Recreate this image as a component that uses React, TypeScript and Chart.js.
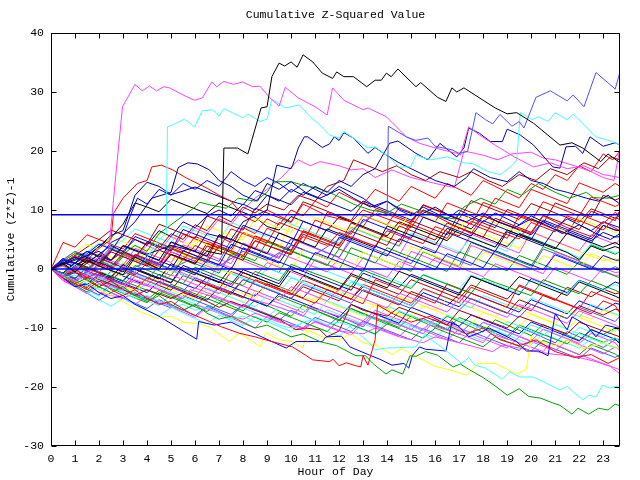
import React, { useEffect, useRef } from "react";
import { Chart, registerables } from "chart.js";

Chart.register(...registerables);

// ---------------- axes ----------------
const HOURS_MAX = 23.7;
const X_TICKS = [0,1,2,3,4,5,6,7,8,9,10,11,12,13,14,15,16,17,18,19,20,21,22,23];
const Y_TICKS = [-30,-20,-10,0,10,20,30,40];
const REF_LEVELS = [0, 9.21];
// sample times (hours) used by the half-hourly series
const HALF_HOURS = [0,.5,1,1.5,2,2.5,3,3.5,4,4.5,5,5.5,6,6.5,7,7.5,8,8.5,9,9.5,10,10.5,11,11.5,12,12.5,13,13.5,14,14.5,15,15.5,16,16.5,17,17.5,18,18.5,19,19.5,20,20.5,21,21.5,22,22.5,23,23.5,23.7];

// ---------------- prominent series: flat (hour, value) pairs ----------------
const magentaA = [0,0, .5,-1.2, 1,.5, 1.5,-.5, 2,1.5, 2.4,3, 2.72,16.8, 2.98,27.5, 3.5,31.3, 3.8,30.2, 4.1,31, 4.4,30.2, 4.7,30.9, 4.94,30.7, 5.5,29.5, 5.98,28.6, 6.3,29, 6.7,31.7, 6.9,30.9, 7.2,31.8, 7.6,31.3, 7.98,31.7, 8.4,30.9, 8.7,31, 9.1,29.1, 9.5,27.6, 9.76,30.8, 10.3,29, 11,27.5, 11.5,26.1, 11.73,30.7, 12.2,28.6, 13,27, 13.2,27.3, 13.97,25.8, 14.8,22.4, 15.35,21.3, 16.2,20.3, 16.9,19.6, 17.05,19.3, 17.4,24.1, 17.85,22.7, 18.5,21, 19.3,19, 20.1,17.3, 20.8,18, 21.5,17, 22.2,17.5, 23,16, 23.7,15.5];
const blackA = [0,0, .5,1, 1,-.5, 1.5,1.5, 2,.5, 3,-1, 3.5,2, 4.5,0, 5,2.5, 6,1, 6.5,3, 7.1,2.5, 7.2,20.5, 7.77,20.5, 8.2,19.5, 8.75,27.3, 9,27.5, 9.2,32.6, 9.5,34.9, 9.73,34.4, 10,35.1, 10.25,34.2, 10.5,36.3, 10.9,35.1, 11.3,33.2, 11.73,32.3, 11.9,33.4, 12.2,32.6, 12.6,32.6, 13.15,30.9, 13.5,32, 13.76,32, 13.97,33.2, 14.17,32.6, 14.45,33.9, 15.2,30.9, 15.4,31.6, 16.1,29.1, 16.45,28.4, 16.7,30.7, 16.9,30, 17.2,30.7, 18,28.6, 18.5,27.3, 19,26.3, 19.4,26.5, 20.1,24.7, 21.2,21, 21.7,21.4, 22.15,20.5, 22.9,18.2, 23.2,19.5, 23.7,18];
const cyanA = [0,0, .5,-1, 1,.8, 1.5,-.8, 2,-2, 2.5,-.5, 3,1, 3.5,-.5, 4,2, 4.5,5, 4.8,6, 4.85,24.1, 5.1,24.5, 5.56,25.4, 5.98,24.1, 6.3,26.8, 6.73,27, 7,25.9, 7.2,27.2, 8,25.6, 8.2,26.3, 8.7,25, 9,25.4, 9.2,28.8, 9.76,27.3, 10.35,27.8, 10.8,25.8, 11.2,24.4, 11.6,22.7, 12,22.2, 12.2,23.3, 13.2,20.5, 13.5,20.7, 13.97,19.3, 14.2,18.5, 14.5,17.3, 14.98,17.3, 15.2,19.3, 15.8,18.5, 16.5,19, 17.2,18, 17.6,17.8, 18.2,16.5, 18.7,16, 19.2,17.5, 19.4,18.5, 19.55,26.5, 20.05,25.3, 20.3,25.8, 20.7,25, 21,26.5, 21.5,25.3, 21.75,26.3, 22.7,22.4, 23.4,21.6, 23.7,21];
const slateA = [0,0, 1,-1.5, 2,.5, 3,-1, 4,1.5, 5,0, 6,2, 7,.5, 8,3, 9,1.5, 10,4, 11,2.5, 12,5, 13,8, 13.6,9.5, 14,9, 14.05,24.2, 14.8,22.4, 15.2,21.8, 15.7,22.2, 16,20.8, 16.7,20.2, 17,19.6, 17.35,19.9, 17.55,23.6, 17.7,26.5, 18.1,25.3, 18.4,24.6, 18.7,26.2, 19.2,24.2, 19.5,25, 19.7,23.9, 20.2,29.1, 20.8,30.2, 21.5,28.5, 21.75,29.5, 22.2,27.5, 22.7,33.3, 23.5,30.5, 23.7,33.4];
const navyA = [0,0, 1,1.5, 2,3, 2.5,1.5, 3,4, 4,2.5, 5,4, 6,3, 6.5,6, 7.5,5, 8,8, 8.5,9, 9,10, 9.4,17.6, 10,17, 10.06,17.5, 10.3,20.5, 10.55,22.4, 10.7,22.4, 11.3,20.6, 11.6,21.2, 11.8,22.4, 12,21.8, 12.2,23.1, 12.6,22.2, 13.2,19.6, 13.5,20.6, 13.97,19.3, 14.5,18, 15,17, 15.5,16, 16,15, 16.8,14, 17.3,15.5, 17.6,17, 18.3,15.5, 19,14.8, 19.5,16.5, 20,15, 20.5,14.5, 21,13.5, 21.5,13, 22.3,12, 22.8,11.5, 23.2,12.5, 23.7,11];
const navyB = [0,0, .5,-1, 1,.5, 1.5,2, 2,1, 2.5,3, 3,6, 3.5,8, 4.2,12, 5,13, 5.3,17.2, 5.7,18, 6.1,17.8, 6.6,16.8, 7,15, 7.5,14, 8,12.5, 8.6,11.5, 9,14.5, 9.5,13.5, 10,14.8, 10.6,13, 11.2,12, 12,13.5, 12.6,12, 13.3,10.5, 14,11.5, 14.6,10, 15.3,9, 16,10.5, 16.6,9, 17.3,8, 18,9.5, 18.6,8, 19.3,7, 20,8.5, 20.6,7.5, 21.3,6, 22,7.5, 22.7,6, 23.3,5, 23.7,6];
const navyC = [0,0, .5,1, 1,2, 1.5,1, 2,2.5, 2.5,4, 3,3, 3.5,5, 4,4, 4.5,6.5, 5,5.5, 5.5,8, 6,7, 6.5,9, 7,10, 7.5,9, 8,11, 8.5,10, 9,12.5, 9.5,11.5, 10,13.5, 10.5,12.5, 11,14, 11.5,13, 12,15, 12.5,14, 13,16, 13.5,17, 14.1,21.3, 14.45,21.7, 15.2,19.6, 15.7,18.5, 16.2,21.3, 16.9,19, 17.2,20.5, 17.4,23.9, 17.85,23, 18.3,21.6, 18.8,21.6, 19,23.7, 19.55,22.7, 20.1,21, 20.9,17.3, 21.2,17.1, 21.45,20.7, 21.85,20.8, 22.15,19.6, 22.45,22.4, 23,20.8, 23.5,21.4, 23.7,21];
const redA = [0,0, .5,1, 1,2, 1.5,1.5, 2,3.5, 2.5,5, 2.6,9.4, 3,12, 3.6,14.5, 4,15, 4.2,17.3, 4.6,17.6, 5.07,16.8, 5.65,15.4, 6.5,13.7, 7,12.5, 7.5,11.5, 8,9, 8.5,8, 9,10, 10,8, 10.5,11, 11.5,9, 12.5,8, 13,10, 14,8.5, 15,7, 15.5,10, 16.5,8, 17.5,6, 18,9, 19,7.5, 20,6, 20.5,9, 21.5,7, 22.5,5.5, 23,8, 23.7,6.5];
const darkredA = [0,0, .5,.8, 1,-.5, 1.5,1, 2,2.5, 2.5,1.5, 3,3, 3.5,2, 4,4.5, 4.5,3.5, 5,6, 5.5,5, 6,7.5, 6.5,6.5, 7,9, 7.5,8, 8,10.5, 8.5,9.5, 9,11, 9.7,10, 10.3,12.5, 11,11.5, 11.5,14, 12.2,15, 12.6,18.5, 13.2,17.5, 13.8,16.5, 14.4,17.5, 15,16, 15.6,15, 16.2,16.5, 17,15.5, 17.5,16.5, 18.2,15, 18.8,14, 19.5,16, 20.2,15, 20.8,17, 21.5,16, 22.2,18, 22.8,17, 23.3,19, 23.7,18.5];
const greenA = [0,0, .5,-.8, 1,.8, 1.5,0, 2,1.5, 2.5,.5, 3,2.5, 3.5,4, 4,3, 4.5,6, 5,7.5, 5.5,9, 6,10.5, 6.2,11.3, 6.7,10.8, 7.3,10.3, 7.8,12, 8.5,11.5, 9,13, 9.3,14.8, 10,14.8, 10.5,14.2, 11,13.8, 11.6,13, 12,12.2, 12.6,11, 13.3,10, 14,9.5, 14.6,11, 15.3,10, 16,9, 16.8,8.5, 17.2,10.5, 17.9,12, 18.5,11, 19,13.5, 19.6,12.5, 20.3,14.5, 21,13, 21.6,12, 22.3,13, 22.6,12.1, 23.2,12, 23.7,12.5];
const magentaB = [0,0, .5,.5, 1,-.8, 1.5,1, 2,-.5, 2.5,1.5, 3,3, 3.5,2, 4,4, 4.5,3, 5,5.5, 5.5,4.5, 6,7, 6.5,6, 7,8.5, 7.5,7.5, 8,10, 8.5,12, 9,13.5, 9.6,15.5, 10.3,18.5, 10.8,17.5, 11.2,18.2, 12,17.5, 12.5,16.8, 13,17, 13.5,15.5, 14.2,16.8, 15,15.5, 16,14.5, 16.8,13.8, 17.2,20, 18,19.3, 18.6,18.5, 19.2,19.5, 20,19.8, 20.5,18.8, 21,18.5, 21.8,17.5, 22.5,16.5, 23,15.5, 23.45,15, 23.7,20.5];
const redB = [0,0, .5,-1, 1,0, 1.5,-1.5, 2,-.5, 2.5,-2, 3,0, 3.5,-1, 4,1, 4.5,0, 5,2.5, 5.5,1.5, 6,4, 6.5,3, 7,5.5, 7.5,4.5, 8,7, 8.5,6, 9,8.5, 9.5,7.5, 10,10, 10.5,9, 11,11.5, 11.5,10.5, 12,13, 12.5,12, 13,11, 13.5,13.5, 14,12.5, 14.5,11.5, 15,14, 15.5,13, 16,12, 16.5,14.5, 17,13.5, 17.5,12.5, 18,15, 18.5,14, 19,13, 19.5,12, 20,14.5, 20.5,13.5, 21,16, 21.5,15, 22,17.5, 22.5,16.5, 23,19.5, 23.4,18.5, 23.7,20];
const blueA = [0,0, .5,1.5, 1,1, 1.5,3, 2,2, 2.5,4.5, 3,5.5, 3.3,9, 3.6,12, 4,11, 4.5,13.5, 5,12.5, 5.5,14.5, 6,13.5, 6.5,15, 7,14, 7.5,16.5, 8,15, 8.5,14, 9,15.5, 9.5,14.5, 10,13, 10.5,14.5, 11,13.5, 11.5,12.5, 12,14, 12.5,13, 13,12, 13.5,10.5, 14,11.5, 14.5,10, 15,9, 15.5,10.5, 16,9.5, 16.5,8.5, 17,10, 17.5,9, 18,8, 18.5,9.5, 19,8.5, 19.5,7.5, 20,9, 20.5,8, 21,7, 21.5,8.5, 22,7.5, 22.5,6.5, 23,8, 23.7,7];
const redLow = [0,0, .5,-1.5, 1,-2.5, 1.5,-3.5, 2,-2, 2.5,-3.5, 3,-4.5, 3.5,-3.5, 4,-5, 4.5,-6, 5,-5.5, 5.8,-7.5, 6.6,-8.9, 7.1,-9.8, 7.85,-10.9, 8.5,-11.5, 9.2,-12.3, 10.06,-13.2, 10.6,-14.6, 10.9,-15.4, 11.6,-15.7, 11.75,-15.3, 12,-16.4, 12.3,-15.9, 12.7,-16.4, 12.9,-16.6, 13,-14.7, 13.2,-16.3, 13.5,-12, 13.6,-6.1, 14.2,-7.5, 15,-9, 15.8,-8, 16.5,-9.5, 17.3,-11, 18,-10, 18.7,-12, 19.5,-13, 20.2,-12, 21,-14, 21.8,-15, 22.5,-14.5, 23.2,-16, 23.7,-15];
const greenLow = [0,0, .5,-1, 1,-2.5, 1.5,-1.5, 2,-3, 2.5,-4, 3,-3, 3.5,-4.5, 4,-5.5, 4.5,-4.5, 5,-6, 5.5,-7, 6,-6, 6.5,-7.5, 7,-8.5, 7.5,-8, 8,-9, 8.5,-10, 9,-9.5, 9.5,-10.5, 10,-11.5, 10.5,-11, 11.2,-12.3, 11.9,-13, 12.7,-14.7, 13.1,-14.7, 13.4,-16, 13.8,-17.3, 13.95,-17.8, 14.2,-17.1, 14.65,-17.8, 14.95,-14.7, 15.2,-14.8, 15.6,-14, 16.1,-14.6, 16.75,-16.6, 17.05,-16.1, 17.4,-17, 18,-18.4, 18.5,-19.8, 19,-21.4, 19.5,-20.3, 19.9,-21.6, 20.4,-21.9, 20.9,-22.7, 21.2,-23.1, 21.7,-24.6, 21.95,-23.6, 22.4,-24.6, 22.8,-23.6, 23.2,-23.9, 23.5,-22.9, 23.7,-23.2];
const cyanLow = [0,0, .5,-1.5, 1,-1, 1.5,-2.5, 2,-3.5, 2.5,-3, 3,-4, 3.5,-5, 4,-4.5, 4.5,-5.5, 5,-6.5, 5.5,-6, 6,-7, 6.5,-6.5, 7,-7.5, 7.5,-8.5, 8,-8, 8.5,-9, 9,-8.5, 9.5,-9.5, 10,-10, 10.5,-9, 11,-8.5, 11.5,-9.5, 12,-9, 12.4,-9.5, 13.27,-12.5, 13.5,-13.7, 13.97,-13.4, 15.2,-13.2, 15.55,-11.2, 15.75,-11.7, 16.5,-14, 17.1,-16, 17.4,-15, 17.65,-16.3, 18.1,-16.8, 18.8,-18.7, 19.1,-17.4, 19.5,-18.3, 20.05,-18.3, 20.3,-18.7, 21.2,-20.5, 21.5,-19.9, 22.15,-22.2, 22.4,-21.4, 22.7,-21.7, 22.97,-19.7, 23.3,-20.2, 23.5,-19.9, 23.7,-19.8];
const blueLow = [0,0, .5,-1.5, 1,-3, 1.5,-2.5, 2,-4, 2.5,-5, 3,-4.5, 3.5,-6, 4,-7, 4.5,-8, 5.1,-9.5, 5.5,-10.5, 6.07,-11.9, 6.15,-8.9, 6.8,-9.5, 7.5,-9, 8.3,-10.6, 9.2,-12.3, 9.8,-13.4, 10.2,-12.3, 11.3,-12.3, 11.45,-11.5, 12.1,-11.4, 12.45,-13.2, 13.27,-14.6, 13.7,-15.3, 14.2,-16.3, 14.7,-16, 14.9,-16.8, 15.05,-14.7, 15.35,-13.2, 15.6,-13.6, 16.45,-13.9, 16.7,-8.9, 17,-9.8, 17.4,-11.5, 17.85,-10.8, 18.25,-10, 19,-11.5, 19.4,-12.3, 19.8,-13.9, 20.3,-13.9, 20.7,-14.7, 21,-7.6, 21.5,-10.3, 21.7,-8.1, 22.3,-9.5, 22.7,-11.5, 23.1,-9.5, 23.7,-10.1];
const yellowLow = [0,0, .5,-1, 1,-2.5, 1.5,-2, 2,-3.5, 2.5,-4.5, 3,-5.5, 3.67,-7.2, 4.4,-8.3, 5,-8, 5.5,-9, 6.2,-9.3, 6.6,-9.8, 7.43,-12.3, 7.85,-10.9, 8.3,-12, 8.7,-13.2, 8.95,-10.8, 9.5,-12, 10.05,-12.3, 10.5,-13.4, 10.65,-10.3, 11.3,-11.5, 12,-12, 12.5,-11, 13,-12.5, 13.6,-13, 14.2,-14.5, 14.6,-13.5, 15.3,-15, 16,-16.5, 16.7,-17.2, 17.3,-18, 17.8,-16, 18.5,-16, 19,-17, 19.4,-17.8, 19.8,-17, 20,-11.5, 20.5,-12.5, 21,-13, 21.5,-12, 22.2,-13.5, 23,-12.5, 23.7,-13.5];
const magentaLow = [0,0, .5,-2, 1,-3, 1.5,-2.5, 2,-4, 3,-5, 3.5,-4, 4.5,-5.5, 5.5,-7, 6,-6, 7,-7.5, 8,-8.5, 8.5,-7.5, 9.5,-9, 10.5,-10, 11,-9, 12,-10.5, 13,-11, 13.5,-10, 14.5,-11.5, 15.5,-12.5, 16,-11.5, 17,-12.5, 18.4,-14, 18.8,-12.9, 19.5,-13.4, 20.2,-14, 21,-14.5, 21.7,-14.7, 22.7,-15.7, 23.3,-16.5, 23.7,-17.8];
const magentaLow2 = [0,0, .5,-1, 1,-2, 1.5,-1, 2,-2.5, 3,-3.5, 3.3,-2, 4.5,-3.5, 5.5,-5, 5.8,-3.5, 7,-5, 8,-6.5, 8.3,-5, 9.5,-6.5, 10.5,-8, 10.8,-6.5, 12,-8, 13,-9.5, 13.3,-8, 14.5,-9.5, 15.5,-11, 15.8,-9.5, 17,-11, 18,-12.5, 18.3,-11, 19.5,-12.5, 20.5,-14, 20.8,-12.5, 22,-14.5, 23,-16, 23.7,-17.1];
const darkredLow = [0,0, .5,-1, 1,-.5, 1.5,-2, 2,-3, 2.5,-2, 3,-3.5, 3.5,-4.5, 4,-3.5, 5,-5, 5.5,-4, 6.5,-5.5, 7,-6.5, 7.5,-5.5, 8.5,-7, 9.5,-8.5, 10.2,-10.3, 10.6,-10, 11.2,-10.3, 11.5,-11.5, 12,-10.5, 12.5,-6, 13,-7, 14,-8, 14.5,-6.5, 15.5,-8, 16.5,-9.5, 17,-7, 18,-8.5, 19,-10, 19.5,-8, 20.5,-9.5, 21.5,-11, 22,-9, 23,-10.5, 23.7,-11.5];

// ---------------- bundle series: values at HALF_HOURS ----------------
const c01 = [0,-.8,.5,-.3,1.8,1,.2,2.5,1.7,1, 3.4,2.6,1.8,1.2,3.9,3.1,2.3,4.8,4,3.3, 2.6,5.5,4.7,4,6.2,5.4,4.6,3.9,6.5,5.7, 5,4.3,7.2,6.4,5.6,8.1,7.3,6.5,5.8,5.1, 7.9,7.1,6.3,9,8.2,7.4,6.6,8.8, 8.3];
const c02 = [0,-.9,-1.7,.4,-.4,-1.2,-2,.6,-.2,-1, -1.8,-2.5,.3,-.5,-1.3,-2.1,-2.8,-.4,-1.2,-2, .8,0,-.8,-1.5,-2.3,-3,-.2,-1,-1.8,-2.6, -3.3,-1,-1.8,-2.6,-3.4,-4.1,-1.5,-2.3,-3,-3.8, -4.5,-1.8,-2.6,-3.4,-4.2,-2,-2.8,-3.6, -4];
const c03 = [0,1.2,.4,-.4,1.9,1.1,.3,-.5,2.2,1.4, .6,-.2,-1,1.5,.7,-.1,3.6,2.8,2,1.2, .4,-.4,2.8,2,1.2,.4,-.4,3.9,3.1,2.3, 1.5,.7,-.1,2.6,1.8,1,.2,3.1,2.3,1.5, .7,-.1,2.4,1.6,.8,0,2.3,1.5, 1.5];
const c04 = [0,-1.3,-2.1,-.6,-1.4,-2.2,-3,-1.2,-2,-2.8, -1,-1.8,-2.6,-3.4,-4.2,-2.1,-2.9,-3.7,-4.5,-5.3, -3,-3.8,-4.6,-5.4,-3.4,-4.2,-5,-5.8,-6.6,-4.1, -4.9,-5.7,-6.5,-7.3,-5,-5.8,-6.6,-7.4,-8.2,-6, -6.8,-7.6,-8.4,-9.2,-7.1,-7.9,-8.7,-9.5, -10];
const c05 = [0,-1,-1.9,-2.8,-1.5,-2.4,-3.3,-4.1,-2.3,-3.1, -3.9,-4.7,-5.5,-3.2,-4,-4.8,-5.6,-6.4,-4.5,-5.3, -6.1,-6.9,-7.7,-5.4,-6.2,-7,-7.8,-8.6,-6.3,-7.1, -7.9,-8.7,-9.5,-7.8,-8.6,-9.4,-10.2,-11,-8.9,-9.7, -10.5,-11.3,-9.4,-10.2,-11,-11.8,-12.5,-11.6, -12.3];
const c06 = [0,.9,2.1,1.3,.5,2.9,2.1,1.3,.5,3.2, 2.4,1.6,.8,3.9,3.1,2.3,1.5,4.8,4,3.2, 2.4,5.9,5.1,4.3,3.5,6.4,5.6,4.8,4,7.3, 6.5,5.7,4.9,7.8,7,6.2,5.4,8.6,7.8,7, 6.2,9.1,8.3,7.5,6.7,9.8,9,8.2, 10];
const c07 = [0,.8,-.2,1.2,.4,-.4,-1.2,1.8,1,.2, -.6,2.4,1.6,.8,0,-.8,2.9,2.1,1.3,.5, -.3,3.3,2.5,1.7,.9,.1,2.8,2,1.2,.4, 3.8,3,2.2,1.4,.6,-.2,2.9,2.1,1.3,.5, -.3,2.3,1.5,.7,-.1,2.6,1.8,1, 2];
const c08 = [0,-.7,1.1,.3,-.5,-1.3,.7,-.1,-.9,-1.7, .9,.1,-.7,-1.5,-2.3,.2,-.6,-1.4,-2.2,-3, -.2,-1,-1.8,-2.6,-3.4,-.8,-1.6,-2.4,-3.2,-.4, -1.2,-2,-2.8,-3.6,-4.4,-1.2,-2,-2.8,-3.6,-1.3, -2.1,-2.9,-3.7,-4.5,-2.2,-3,-3.8,-4.6, -5];
const c09 = [0,1.1,.3,1.9,1.1,.3,-.5,2.4,1.6,.8, 0,3.1,2.3,1.5,.7,4.2,3.4,2.6,1.8,1, 4.1,3.3,2.5,1.7,5.4,4.6,3.8,3,2.2,5.1, 4.3,3.5,2.7,6.2,5.4,4.6,3.8,3,6.3,5.5, 4.7,3.9,6.8,6,5.2,4.4,7.4,6.6, 6.5];
const c10 = [0,-1.1,-1.9,-.3,-1.1,-1.9,-2.7,-.6,-1.4,-2.2, -3,-3.8,-1.5,-2.3,-3.1,-3.9,-1.8,-2.6,-3.4,-4.2, -5,-2.6,-3.4,-4.2,-5,-5.8,-3.5,-4.3,-5.1,-5.9, -6.7,-4.6,-5.4,-6.2,-7,-5,-5.8,-6.6,-7.4,-8.2, -6,-6.8,-7.6,-8.4,-6.5,-7.3,-8.1,-8.9, -8];
const c11 = [0,-1.2,-2.2,-3.2,-1,-1.8,-2.6,-3.4,-1.5,-2.3, -3.1,-3.9,-4.7,-2.5,-3.3,-4.1,-4.9,-1.8,-2.6,-3.4, -4.2,-5,-5.8,-3.5,-4.3,-5.1,-5.9,-1.8,-2.6,-3.4, -4.2,-5,-5.8,-2.5,-3.3,-4.1,-4.9,-5.7,-6.5,-2.7, -3.5,-4.3,-5.1,-5.9,-6.7,-3.8,-4.6,-5.4, -5.5];
const c12 = [0,1.3,2.6,1.8,1,3.5,2.7,1.9,1.1,4.3, 3.5,2.7,1.9,1.1,3.8,3,2.2,1.4,4.6,3.8, 3,2.2,1.4,.6,3.4,2.6,1.8,1,3.6,2.8, 2,1.2,.4,-.4,2.9,2.1,1.3,.5,-.3,2.3, 1.5,.7,-.1,-.9,1.2,.4,-.4,-1.2, -1.5];
const c13 = [0,-.9,-1.8,-2.7,-.8,-1.6,-2.4,-3.2,-4,-2.1, -2.9,-3.7,-4.5,-5.3,-3.1,-3.9,-4.7,-5.5,-6.3,-4.2, -5,-5.8,-6.6,-7.4,-8.2,-6,-6.8,-7.6,-8.4,-9.2, -6.5,-7.3,-8.1,-8.9,-9.7,-7.8,-8.6,-9.4,-10.2,-11, -9,-9.8,-10.6,-11.4,-12.2,-10.3,-11.1,-11.9, -12.7];
const c14 = [0,.9,2.2,1.4,.6,-.2,2.4,1.6,.8,0, 2.9,2.1,1.3,.5,-.3,2.2,1.4,.6,-.2,2.7, 1.9,1.1,.3,-.5,1.8,1,.2,-.6,-1.4,1.3, .5,-.3,1.9,1.1,.3,-.5,-1.3,.9,.1,-.7, -1.5,-2.3,.3,-.5,-1.3,-2.1,.2,-.6, -.5];
const c15 = [0,-.9,.1,-.7,-1.5,-2.3,-.2,-1,-1.8,.6, -.2,-1,-1.8,.9,.1,-.7,-1.5,-2.3,.2,-.6, -1.4,-2.2,.4,-.4,-1.2,-2,-2.8,-.6,-1.4,-2.2, -3,-.9,-1.7,-2.5,-3.3,-1,-1.8,-2.6,-3.4,-4.2, -1.8,-2.6,-3.4,-4.2,-2,-2.8,-3.6,-2.6, -3];
const c16 = [0,-1.2,-.2,-1,-1.8,-2.6,-3.4,-1.2,-2,-2.8, -3.6,-1.1,-1.9,-2.7,-3.5,-4.3,-1.8,-2.6,-3.4,-4.2, -5,-3,-3.8,-4.6,-5.4,-2.9,-3.7,-4.5,-5.3,-6.1, -3.8,-4.6,-5.4,-6.2,-4.3,-5.1,-5.9,-6.7,-7.5,-5.2, -6,-6.8,-7.6,-8.4,-6.2,-7,-7.8,-6.8, -7];
const c17 = [0,-1.1,-2.1,-3.1,-1.4,-2.2,-3,-3.8,-1.9,-2.7, -3.5,-4.3,-5.1,-3.2,-4,-4.8,-5.6,-3.7,-4.5,-5.3, -6.1,-6.9,-4.8,-5.6,-6.4,-7.2,-8,-6,-6.8,-7.6, -8.4,-6.2,-7,-7.8,-8.6,-9.4,-7.3,-8.1,-8.9,-9.7, -7.7,-8.5,-9.3,-10.1,-8.2,-9,-9.8,-10.6, -9.5];
const c18 = [0,.8,1.7,3,2.2,1.4,3.9,3.1,2.3,1.5, 4.6,3.8,3,2.2,5.8,5,4.2,3.4,2.6,6.1, 5.3,4.5,3.7,6.8,6,5.2,4.4,3.6,7.3,6.5, 5.7,4.9,4.1,6.9,6.1,5.3,4.5,3.7,6.6,5.8, 5,4.2,3.4,6.1,5.3,4.5,3.7,4.5, 4];
const c19 = [0,-.8,-1.6,.3,-.5,-1.3,-2.1,.1,-.7,-1.5, -2.3,.6,-.2,-1,-1.8,-2.6,-.1,-.9,-1.7,-2.5, .4,-.4,-1.2,-2,-2.8,-3.6,-.7,-1.5,-2.3,-3.1, -.9,-1.7,-2.5,-3.3,-4.1,-1.2,-2,-2.8,-3.6,-4.4, -1.6,-2.4,-3.2,-4,-1.9,-2.7,-3.5,-2.2, -2.5];
const c20 = [0,1.6,3,2.2,1.4,3.8,3,2.2,1.4,.6, 4.5,3.7,2.9,2.1,1.3,5,4.2,3.4,2.6,1.8, 5.2,4.4,3.6,2.8,2,4.9,4.1,3.3,2.5,1.7, .9,3.8,3,2.2,1.4,.6,3.3,2.5,1.7,.9, .1,3.4,2.6,1.8,1,.2,-.6,.4, 0];
const c21 = [0,.8,-.4,-1.6,1.2,.4,-.4,-1.2,-2,.6, -.2,-1,-1.8,-2.6,-3.4,-.4,-1.2,-2,-2.8,-3.6, -4.4,-1.9,-2.7,-3.5,-4.3,-5.1,-2.6,-3.4,-4.2,-5, -5.8,-3.3,-4.1,-4.9,-5.7,-3.1,-3.9,-4.7,-5.5,-6.3, -7.1,-4.4,-5.2,-6,-6.8,-7.6,-5.4,-6.2, -7.5];
const c22 = [0,-1.5,-2.7,-3.9,-2.5,-3.3,-4.1,-4.9,-5.7,-4, -4.8,-5.6,-6.4,-7.2,-5.8,-6.6,-7.4,-8.2,-9,-7.4, -8.2,-9,-9.8,-10.6,-8.6,-9.4,-10.2,-11,-9.3,-10.1, -10.9,-11.7,-10,-10.8,-11.6,-12.4,-13.2,-11.5,-12.3,-13.1, -13.9,-12.1,-12.9,-13.7,-14.5,-12.8,-13.6,-14.4, -15];
const c23 = [0,1.7,.9,2.6,4.2,3.4,2.6,5.5,4.7,3.9, 3.1,6.7,5.9,5.1,4.3,3.5,7.4,6.6,5.8,5, 4.2,8.1,7.3,6.5,5.7,4.9,8.4,7.6,6.8,6, 5.2,8.8,8,7.2,6.4,5.6,8.2,7.4,6.6,5.8, 5,8.3,7.5,6.7,5.9,5.1,7.4,6.6, 6.5];
const c24 = [0,-.9,-2,-1.2,-2,-2.8,-3.6,-1.8,-2.6,-3.4, -4.2,-5,-3.2,-4,-4.8,-5.6,-6.4,-4.2,-5,-5.8, -6.6,-7.4,-5.6,-6.4,-7.2,-8,-8.8,-7,-7.8,-8.6, -9.4,-10.2,-8.4,-9.2,-10,-10.8,-9,-9.8,-10.6,-11.4, -12.2,-10.2,-11,-11.8,-12.6,-10.9,-11.7,-12.5, -13.5];
const c25 = [0,1.2,.4,-.6,1.5,.7,-.1,-.9,-1.7,.6, -.2,-1,-1.8,-2.6,0,-.8,-1.6,-2.4,-3.2,-4, -1.5,-2.3,-3.1,-3.9,-4.7,-2.2,-3,-3.8,-4.6,-5.4, -6.2,-3.4,-4.2,-5,-5.8,-6.6,-4.5,-5.3,-6.1,-6.9, -4.9,-5.7,-6.5,-7.3,-8.1,-6,-6.8,-7.6, -8];
const c26 = [0,1.4,2.8,4.2,3.4,5.4,4.6,3.8,3,6.2, 5.4,4.6,3.8,7.3,6.5,5.7,4.9,8.6,7.8,7, 6.2,9.5,8.7,7.9,7.1,6.3,9.2,8.4,7.6,6.8, 9.8,9,8.2,7.4,6.6,9.4,8.6,7.8,7,6.2, 8.7,7.9,7.1,6.3,8.6,7.8,7,6.2, 6.5];
const c27 = [0,.9,2.3,3.7,5,6.6,5.8,5,4.2,7.6, 6.8,6,5.2,9,8.2,7.4,6.6,10.3,9.5,8.7, 7.9,11.4,10.6,9.8,9,8.2,11.2,10.4,9.6,8.8, 8,10.9,10.1,9.3,8.5,11.6,10.8,10,9.2,8.4, 11.1,10.3,9.5,8.7,7.9,10.2,9.4,8.6, 9];
const c28 = [0,-.9,.4,1.8,1,.2,2.8,2,1.2,.4, 3.9,3.1,2.3,1.5,5.8,5,4.2,3.4,6.9,6.1, 5.3,4.5,8.3,7.5,6.7,5.9,9.1,8.3,7.5,10.4, 9.6,8.8,8,11.2,10.4,9.6,8.8,12,11.2,10.4, 13.5,12.7,11.9,11.1,14.6,13.8,13,14.5, 14];
const c29 = [0,-1.3,-.5,-1.8,-3.1,-1.2,-2,-2.8,-3.6,-4.4, -2.6,-3.4,-4.2,-5,-5.8,-3.9,-4.7,-5.5,-6.3,-4.6, -5.4,-6.2,-7,-7.8,-8.6,-6.7,-7.5,-8.3,-9.1,-9.9, -7.9,-8.7,-9.5,-10.3,-8.2,-9,-9.8,-10.6,-11.4,-9.5, -10.3,-11.1,-11.9,-12.7,-10.8,-11.6,-12.4,-11.8, -12];
const c30 = [0,1.8,1,2.3,3.8,5.7,6.5,12.5,14.7,14, 12.6,13.2,13.9,13.1,12.3,11.5,10.9,13.3,12.5,11.7, 10.9,13,12.2,11.4,10.6,9.8,11.5,10.7,9.9,9.1, 8.3,10,9.2,8.4,7.6,6.8,9,8.2,7.4,6.6, 5.8,8,7.2,6.4,5.6,4.8,6.2,5.4, 5.5];
const c31 = [0,-.8,-1.8,-3.4,-4.4,-2.6,-3.4,-4.2,-5,-5.8, -6.6,-4.5,-5.3,-6.1,-6.9,-7.7,-6,-6.8,-7.6,-8.4, -9.2,-10,-8.2,-9,-9.8,-10.6,-8.8,-9.6,-10.4,-11.2, -12,-10.1,-10.9,-11.7,-12.5,-10.6,-11.4,-12.2,-13,-13.8, -12,-12.8,-13.6,-14.4,-15.2,-13.4,-14.2,-15, -14.5];
const c32 = [0,1.4,2.8,2,3.8,5.3,7.6,11.2,10.5,9.7, 11.8,11,10.2,9.4,11.2,10.4,9.6,8.8,7.2,6.6, 8.9,8.1,7.3,6.5,8.8,8,7.2,6.4,5.6,8, 7.2,6.4,5.6,4.8,7,6.2,5.4,4.6,3.8,6, 5.2,4.4,3.6,2.8,1.6,3.9,3.1,3.8, 3.5];
const c33 = [0,-.9,-1.9,-.6,-1.4,-2.2,-3,-3.8,-1.2,-2, -2.8,-3.6,-4.4,-5.2,-2.6,-3.4,-4.2,-5,-2.3,-3.1, -3.9,-4.7,-5.5,-3,-3.8,-4.6,-5.4,-6.2,-7,-4.6, -5.4,-6.2,-7,-4.9,-5.7,-6.5,-7.3,-8.1,-6,-6.8, -7.6,-8.4,-9.2,-6.9,-7.7,-8.5,-7,-7.8, -7.5];
const c34 = [0,.9,1.9,2.9,4.4,3.6,4.9,6.8,6,5.2, 4.4,7.3,6.5,5.7,4.9,7.9,7.1,6.3,5.5,8.4, 7.6,6.8,6,5.2,4.4,7,6.2,5.4,4.6,3.8, 6.1,5.3,4.5,3.7,2.9,5.4,4.6,3.8,3,6.1, 5.3,4.5,3.7,2.9,1.9,4.3,3.5,2.7, 3];
const c35 = [0,-.9,.4,-.4,-1.2,-2,.1,-.7,-1.5,-2.3, .1,-.7,-1.5,-2.3,1,.2,-.6,-1.4,1.1,.3, -.5,-1.3,1.6,.8,0,-.8,1.9,1.1,.3,-.5, 3,2.2,1.4,.6,-.2,4,3.2,2.4,1.6,.8, 0,-.8,2.9,2.1,1.3,.5,-.3,-1.1, -1];
const c36 = [0,.6,-.4,1.3,.5,-.3,2.1,1.3,.5,-.3, -1.1,1.7,.9,.1,-.7,2.6,1.8,1,.2,-.6, 3.1,2.3,1.5,.7,-.1,3.6,2.8,2,1.2,.4, -.4,2.9,2.1,1.3,.5,4.5,3.7,2.9,2.1,1.3, .5,3.8,3,2.2,1.4,4.1,3.3,2.5, 3];
const c37 = [0,1,2.3,1.5,.7,3.3,2.5,1.7,4.6,3.8, 3,5.9,5.1,4.3,3.5,6.8,6,5.2,4.4,7.9, 7.1,6.3,5.5,9.6,8.8,8,7.2,10.1,9.3,8.5, 7.7,10.8,10,9.2,8.4,7.6,11.3,10.5,9.7,8.9, 8.1,11.4,10.6,9.8,9,12.2,11.4,10.6, 11];
const c38 = [0,-1.4,-.6,-1.4,-2.2,-.4,-1.2,-2,-2.8,-.9, -1.7,-2.5,-3.3,-1.4,-2.2,-3,-3.8,-4.6,-2.5,-3.3, -4.1,-4.9,-2.7,-3.5,-4.3,-5.1,-3,-3.8,-4.6,-5.4, -6.2,-4,-4.8,-5.6,-6.4,-4.1,-4.9,-5.7,-6.5,-7.3, -5.2,-6,-6.8,-7.6,-5.4,-6.2,-7,-5.8, -6];
const c39 = [0,-.7,.9,.1,-.7,-1.5,.8,0,-.8,-1.6, -2.4,.2,-.6,-1.4,-2.2,-3,-.6,-1.4,-2.2,-3, -3.8,-1.2,-2,-2.8,-3.6,-1.1,-1.9,-2.7,-3.5,-4.3, -1.8,-2.6,-3.4,-4.2,-5,-2.7,-3.5,-4.3,-5.1,-2.9, -3.7,-4.5,-5.3,-3.1,-3.9,-4.7,-3.4,-4.2, -4];
const c40 = [0,1.5,.7,-.1,2.2,1.4,.6,3.5,2.7,1.9, 1.1,4.1,3.3,2.5,1.7,.9,4.4,3.6,2.8,2, 5.1,4.3,3.5,2.7,1.9,5.5,4.7,3.9,3.1,2.3, 5.8,5,4.2,3.4,2.6,5.9,5.1,4.3,3.5,2.7, 6.3,5.5,4.7,3.9,3.1,5.8,5,4.2, 5];
const c41 = [0,.7,1.6,.8,2.8,2,1.2,.4,3.5,2.7, 1.9,1.1,4.9,4.1,3.3,2.5,6.1,5.3,4.5,3.7, 7.6,6.8,6,5.2,4.4,7.2,6.4,5.6,4.8,8, 7.2,6.4,5.6,4.8,7.5,6.7,5.9,5.1,4.3,3.5, 6.2,5.4,4.6,3.8,3,2.2,1.4,1.8, 1];
const c42 = [0,-1.2,-2.4,-3.5,-4.6,-3,-3.8,-4.6,-5.4,-6.2, -4.3,-5.1,-5.9,-6.7,-5,-5.8,-6.6,-7.4,-8.2,-6.4, -7.2,-8,-8.8,-6.9,-7.7,-8.5,-9.3,-10.1,-8.1,-8.9, -9.7,-10.5,-8.6,-9.4,-10.2,-11,-9.1,-9.9,-10.7,-11.5, -9.5,-10.3,-11.1,-11.9,-9.9,-10.7,-11.5,-10.3, -10];
const c43 = [0,-1.5,-2.8,-4,-5.2,-6.3,-5,-6,-7,-8, -6.5,-7.5,-8.4,-9.3,-7.8,-8.7,-9.6,-8,-8.9,-9.8, -10.6,-9,-9.8,-10.6,-11.4,-9.5,-10.3,-11.1,-8.5,-9.3, -10.1,-10.9,-11.7,-9.8,-10.6,-11.4,-12.2,-10.4,-11.2,-12, -12.8,-11,-11.8,-12.6,-13.4,-11.8,-12.6,-13.4, -13];
const c44 = [0,-1.8,-3,-4.2,-3,-4,-5,-6,-4.6,-5.5, -6.4,-7.3,-8.2,-6.5,-7.4,-8.3,-9.2,-10,-8,-8.8, -9.6,-10.4,-8.8,-9.6,-10.4,-11.2,-9,-9.8,-10.6,-11.4, -9.6,-10.4,-11.2,-12,-10.2,-11,-11.8,-12.6,-13.4,-11.5, -12.3,-13.1,-13.9,-12,-12.8,-13.6,-14.4,-13.2, -13.8];
const c45 = [0,-1.6,-2.9,-4.1,-5.3,-4,-4.9,-5.8,-6.7,-5.2, -6.1,-7,-7.9,-6.3,-7.2,-8.1,-6,-6.9,-7.8,-8.7, -7,-7.9,-8.8,-9.7,-8,-8.9,-9.8,-7.6,-8.5,-9.4, -10.3,-8.4,-9.3,-10.2,-11.1,-9.1,-10,-10.9,-11.8,-9.8, -10.7,-11.6,-12.5,-10.6,-11.5,-12.4,-13.3,-12, -12.5];
const c46 = [0,4.5,3.7,5.8,5,4.2,3.4,6,5.2,4.4, 3.6,2.8,5.5,4.7,3.9,3.1,6.2,5.4,4.6,3.8, 3,6.3,5.5,4.7,3.9,7.1,6.3,5.5,4.7,3.9, 7.6,6.8,6,5.2,8.4,7.6,6.8,6,5.2,9.1, 8.3,7.5,6.7,5.9,9.3,8.5,7.7,9.6, 9];
const c47 = [0,.8,-.2,1.6,.8,0,2.4,1.6,.8,0, 2.9,2.1,1.3,4.4,3.6,2.8,2,5.6,4.8,4, 3.2,6.5,5.7,4.9,4.1,7.8,7,6.2,5.4,4.6, 8.2,7.4,6.6,5.8,9.4,8.6,7.8,7,10.1,9.3, 8.5,7.7,11.2,10.4,9.6,8.8,12.5,11.7, 12];
const c48 = [0,-1,-2,-3,-1.6,-2.5,-3.4,-4.3,-5.2,-3.6, -4.5,-5.4,-6.3,-4.4,-5.3,-6.2,-7.1,-5.3,-6.2,-7.1, -8,-6.1,-7,-7.9,-8.8,-6.7,-7.6,-8.5,-9.4,-7.2, -8.1,-9,-9.9,-8,-8.9,-9.8,-10.7,-8.6,-9.5,-10.4, -11.3,-9.4,-10.3,-11.2,-12.1,-10.2,-11.1,-10, -10.5];

// ---------------- styles ----------------
const RED = "#ff0000", GREEN = "#00a000", BLUE = "#0000ff", MAGENTA = "#ff40ff", CYAN = "#40ffff";
const DARKRED = "#a00000", YELLOW = "#ffff00", BLACK = "#000000", NAVY = "#0000a0", SLATE = "#5050ff";
const REF_COLOR = "#0000ff";
const FONT = "'Liberation Mono', 'DejaVu Sans Mono', monospace";
const FONT_SIZE = 11.5;

const PAIR_SERIES: [number[], string][] = [
  [blackA, BLACK], [slateA, SLATE], [magentaA, MAGENTA], [cyanA, CYAN], [navyA, NAVY],
  [navyB, NAVY], [navyC, NAVY], [redA, RED], [darkredA, DARKRED], [greenA, GREEN],
  [magentaB, MAGENTA], [redB, RED], [blueA, BLUE],
  [redLow, RED], [greenLow, GREEN], [cyanLow, CYAN], [blueLow, BLUE], [yellowLow, YELLOW],
  [magentaLow, MAGENTA], [magentaLow2, MAGENTA], [darkredLow, DARKRED],
];
const HALF_SERIES: [number[], string][] = [
  [c01, RED], [c02, GREEN], [c03, BLUE], [c04, MAGENTA], [c05, CYAN], [c06, DARKRED], [c07, YELLOW],
  [c08, BLACK], [c09, NAVY], [c10, SLATE], [c11, RED], [c12, GREEN], [c13, BLUE], [c14, MAGENTA],
  [c15, CYAN], [c16, DARKRED], [c17, YELLOW], [c18, BLACK], [c19, NAVY], [c20, SLATE], [c21, RED],
  [c22, GREEN], [c23, BLUE], [c24, MAGENTA], [c25, CYAN], [c26, YELLOW], [c27, DARKRED], [c28, RED],
  [c29, GREEN], [c30, NAVY], [c31, SLATE], [c32, BLACK], [c33, YELLOW], [c34, CYAN], [c35, MAGENTA],
  [c36, GREEN], [c37, RED], [c38, BLUE], [c39, DARKRED], [c40, MAGENTA], [c41, YELLOW], [c42, CYAN],
  [c43, CYAN], [c44, MAGENTA], [c45, SLATE], [c46, RED], [c47, DARKRED], [c48, GREEN],
];

function pairsToPoints(flat: number[]) {
  const pts: { x: number; y: number }[] = [];
  for (let i = 0; i + 1 < flat.length; i += 2) pts.push({ x: flat[i], y: flat[i + 1] });
  return pts;
}
function halfToPoints(vals: number[]) {
  const n = Math.min(vals.length, HALF_HOURS.length);
  const pts: { x: number; y: number }[] = [];
  for (let i = 0; i < n; i++) pts.push({ x: HALF_HOURS[i], y: vals[i] });
  return pts;
}

const framePlugin = {
  id: "gnuFrame",
  afterDraw(chart: any) {
    const { ctx, chartArea, scales } = chart;
    const { left, right, top, bottom } = chartArea;
    const xs = scales.x, ys = scales.y;
    const L = Math.round(left) + 0.5, R = Math.round(right) - 0.5;
    const T = Math.round(top) + 0.5, B = Math.round(bottom) - 0.5;
    ctx.save();
    ctx.strokeStyle = "#000";
    ctx.lineWidth = 1;
    ctx.beginPath();
    ctx.rect(L, T, R - L, B - T);
    for (const h of X_TICKS) {
      const px = Math.round(xs.getPixelForValue(h)) + 0.5;
      ctx.moveTo(px, B); ctx.lineTo(px, B - 5);
      ctx.moveTo(px, T); ctx.lineTo(px, T + 5);
    }
    for (const v of Y_TICKS) {
      const py = Math.round(ys.getPixelForValue(v)) + 0.5;
      ctx.moveTo(L, py); ctx.lineTo(L + 5, py);
      ctx.moveTo(R, py); ctx.lineTo(R - 5, py);
    }
    ctx.stroke();
    ctx.fillStyle = "#000";
    ctx.font = `${FONT_SIZE}px ${FONT}`;
    ctx.textBaseline = "middle";
    ctx.textAlign = "center";
    for (const h of X_TICKS) ctx.fillText(String(h), xs.getPixelForValue(h), 459);
    ctx.textAlign = "right";
    for (const v of Y_TICKS) ctx.fillText(String(v), 44, ys.getPixelForValue(v));
    ctx.textAlign = "center";
    const cx = (left + right) / 2;
    ctx.fillText("Cumulative Z-Squared Value", cx, 15);
    ctx.fillText("Hour of Day", cx, 472);
    ctx.translate(11, (top + bottom) / 2);
    ctx.rotate(-Math.PI / 2);
    ctx.fillText("Cumulative (Z*Z)-1", 0, 0);
    ctx.restore();
  },
};

export default function App() {
  const ref = useRef<HTMLCanvasElement | null>(null);
  useEffect(() => {
    if (!ref.current) return;
    const datasets: any[] = [];
    for (const lv of REF_LEVELS) {
      datasets.push({
        data: [{ x: 0, y: lv }, { x: HOURS_MAX, y: lv }],
        borderColor: REF_COLOR, borderWidth: 1.5, pointRadius: 0,
      });
    }
    for (const [flat, color] of PAIR_SERIES) {
      datasets.push({ data: pairsToPoints(flat), borderColor: color, borderWidth: 1, pointRadius: 0 });
    }
    for (const [vals, color] of HALF_SERIES) {
      datasets.push({ data: halfToPoints(vals), borderColor: color, borderWidth: 1, pointRadius: 0 });
    }
    const chart = new Chart(ref.current, {
      type: "line",
      data: { datasets },
      options: {
        animation: false,
        responsive: false,
        events: [],
        layout: { padding: { top: 33, right: 20, bottom: 34, left: 51 } },
        plugins: { legend: { display: false }, tooltip: { enabled: false }, title: { display: false } },
        elements: { line: { tension: 0 } },
        scales: {
          x: { type: "linear", min: 0, max: HOURS_MAX, display: false },
          y: { type: "linear", min: -30, max: 40, display: false },
        },
      },
      plugins: [framePlugin],
    });
    return () => chart.destroy();
  }, []);
  return (
    <div style={{ position: "absolute", left: 0, top: 0, width: 640, height: 480, background: "#fff" }}>
      <canvas ref={ref} width={640} height={480} style={{ display: "block" }} />
    </div>
  );
}
